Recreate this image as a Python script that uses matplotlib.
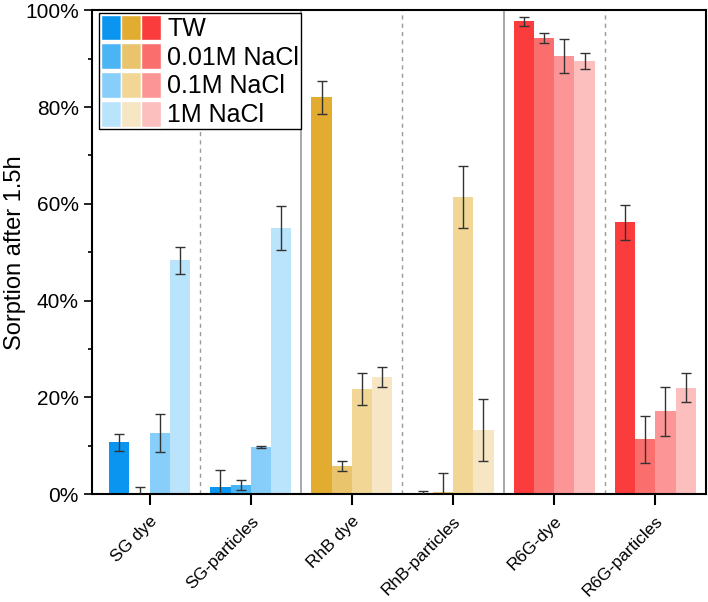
import numpy as np
import matplotlib
matplotlib.use("Agg")
import matplotlib.pyplot as plt
from matplotlib.patches import Patch
from matplotlib.legend_handler import HandlerTuple
from matplotlib.ticker import PercentFormatter, MultipleLocator
from matplotlib.transforms import ScaledTranslation

plt.rcParams['font.family'] = ['Liberation Sans', 'DejaVu Sans']

categories = ['SG dye', 'SG-particles', 'RhB dye', 'RhB-particles', 'R6G-dye', 'R6G-particles']
conditions = ['TW', '0.01M NaCl', '0.1M NaCl', '1M NaCl']

# sorption (%) per category, one list per condition
tw     = [10.7, 1.4, 82.0, 0.3, 97.7, 56.2]
m001   = [0.1, 1.9, 5.8, 0.5, 94.2, 11.4]
m01    = [12.7, 9.8, 21.7, 61.4, 90.5, 17.1]
m1     = [48.3, 55.0, 24.2, 13.2, 89.5, 22.0]

tw_err   = [1.8, 3.7, 3.4, 0.4, 1.0, 3.6]
m001_err = [1.3, 0.95, 1.0, 3.9, 1.0, 4.85]
m01_err  = [3.9, 0.2, 3.3, 6.4, 3.5, 5.0]
m1_err   = [2.7, 4.6, 2.0, 6.4, 1.6, 3.0]

values = [tw, m001, m01, m1]
errors = [tw_err, m001_err, m01_err, m1_err]

# colours per dye family (rows: condition)
blues = ['#0A96F0', '#4BB4F5', '#87CEFA', '#BAE3FC']
golds = ['#E2AC30', '#EAC46C', '#F1D696', '#F6E6C4']
reds  = ['#FA3C3C', '#FA6E6E', '#FC9696', '#FDBEBE']
family_colors = [blues, blues, golds, golds, reds, reds]

fig = plt.figure(figsize=(7.08, 6.02), dpi=100)
ax = fig.add_axes([0.130, 0.179, 0.867, 0.804])

x = np.arange(len(categories))
width = 0.2
for j in range(4):
    cols = [family_colors[i][j] for i in range(len(categories))]
    pos = x + (j - 1.5) * width
    ax.bar(pos, values[j], width, color=cols, zorder=2)
    ax.errorbar(pos, values[j], yerr=errors[j], fmt='none', ecolor='#333333',
                elinewidth=1, capsize=3.5, capthick=1, zorder=3)

# separators between groups
for b in [0.5, 2.5, 4.5]:
    ax.axvline(b, color='#999999', lw=1, ls=(0, (3, 3)), zorder=1)
for b in [1.5, 3.5]:
    ax.axvline(b, color='#999999', lw=1.2, zorder=1)

ax.set_xlim(-0.57, 5.5)
ax.set_ylim(0, 100)
ax.yaxis.set_major_locator(MultipleLocator(20))
ax.yaxis.set_minor_locator(MultipleLocator(10))
ax.yaxis.set_major_formatter(PercentFormatter(decimals=0))
ax.set_xticks(x)
ax.set_xticklabels(categories, rotation=45, ha='right', rotation_mode='anchor')
offset = ScaledTranslation(10 / 100, 1 / 100, fig.dpi_scale_trans)
for lab in ax.get_xticklabels():
    lab.set_transform(lab.get_transform() + offset)
ax.tick_params(axis='y', which='major', length=6, width=1.2, labelsize=15)
ax.tick_params(axis='y', which='minor', length=3, width=1.2)
ax.tick_params(axis='x', which='major', length=8, width=1.5, labelsize=12.5, pad=6)
ax.set_ylabel('Sorption after 1.5h', fontsize=17)
ax.yaxis.set_label_coords(-0.108, 0.5)
for s in ax.spines.values():
    s.set_linewidth(1.5)

handles = []
for j in range(4):
    handles.append((Patch(facecolor=blues[j], edgecolor='white', lw=1),
                    Patch(facecolor=golds[j], edgecolor='white', lw=1),
                    Patch(facecolor=reds[j], edgecolor='white', lw=1)))
leg = ax.legend(handles, conditions, handler_map={tuple: HandlerTuple(ndivide=None, pad=0)},
                loc='upper left', bbox_to_anchor=(0.011, 0.995), fontsize=18,
                handlelength=2.4, handleheight=1.2, labelspacing=0.1,
                handletextpad=0.25, borderpad=0.08, borderaxespad=0,
                fancybox=False, framealpha=1, edgecolor='black')
leg.get_frame().set_linewidth(1)

fig.savefig('out.png', dpi=100)
